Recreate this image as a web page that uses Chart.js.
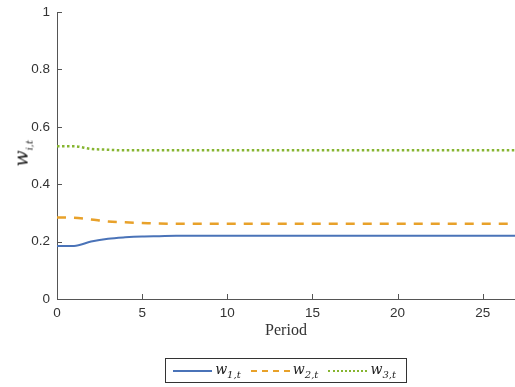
<!DOCTYPE html>
<html>
<head>
<meta charset="utf-8">
<script src="https://cdn.jsdelivr.net/npm/chart.js@4"></script>
<style>
    html, body { margin: 0; padding: 0; background: #fff; }
    #wrap { position: relative; width: 515px; height: 387px; }
    #yTitle {
        position: absolute; left: 0px; top: 141px; width: 44px; text-align: center;
        transform: rotate(-90deg); font-family: "DejaVu Serif", serif; font-size: 19px; color: #222;
    }
    #xTitle {
        position: absolute; left: 57px; width: 458px; top: 321px; text-align: center;
        font-family: "Liberation Serif", serif; font-size: 16px; color: #333;
    }
    #legend {
        position: absolute; left: 165px; top: 358px; width: 242px; height: 25px;
        border: 1px solid #333; box-sizing: border-box; display: flex; align-items: center;
        font-family: "DejaVu Serif", serif; font-size: 14px; color: #222; padding-left: 7px;
    }
    #legend span.sw { display: inline-block; width: 42px; height: 0; margin-right: 3px; }
    #legend span.it { margin-right: 10px; }
    sub { font-size: 10px; font-style: italic; }
    i { font-style: italic; }
</style>
</head>
<body>
<div id="wrap">
    <canvas id="chart" width="515" height="387"></canvas>
    <div id="yTitle"><i>w</i><sub>i,t</sub></div>
    <div id="xTitle">Period</div>
    <div id="legend"></div>
</div>
<script>
const periods = [0, 1, 2, 3, 4, 5, 6, 7, 8, 9, 10, 11, 12, 13, 14, 15, 16, 17, 18, 19, 20, 21, 22, 23, 24, 25, 26, 27]
const w1 = [0.185, 0.185, 0.200, 0.210, 0.215, 0.218, 0.219, 0.220, 0.220, 0.220, 0.220, 0.220, 0.220, 0.220,
    0.220, 0.220, 0.220, 0.220, 0.220, 0.220, 0.220, 0.220, 0.220, 0.220, 0.220, 0.220, 0.220, 0.220]
const w2 = [0.284, 0.283, 0.277, 0.270, 0.267, 0.265, 0.263, 0.262, 0.262, 0.262, 0.262, 0.262, 0.262, 0.262,
    0.262, 0.262, 0.262, 0.262, 0.262, 0.262, 0.262, 0.262, 0.262, 0.262, 0.262, 0.262, 0.262, 0.262]
const w3 = [0.532, 0.532, 0.523, 0.520, 0.518, 0.518, 0.518, 0.518, 0.518, 0.518, 0.518, 0.518, 0.518, 0.518,
    0.518, 0.518, 0.518, 0.518, 0.518, 0.518, 0.518, 0.518, 0.518, 0.518, 0.518, 0.518, 0.518, 0.518]
const xTicks = [0, 5, 10, 15, 20, 25]
const yTicks = [0, 0.2, 0.4, 0.6, 0.8, 1]
const seriesNames = ['1,t', '2,t', '3,t']

const colors = ['#4a73b8', '#e8a12a', '#86b530']
const dashes = [[], [9, 8], [2.5, 2.5]]
const widths = [2, 2.5, 2.5]

function toPoints(values) {
    return periods.map(function (p, i) { return { x: p, y: values[i] } })
}

// MATLAB style inward tick marks
const inwardTicks = {
    id: 'inwardTicks',
    afterDraw(chart) {
        const ctx = chart.ctx
        const xs = chart.scales.x
        const ys = chart.scales.y
        const area = chart.chartArea
        ctx.save()
        ctx.strokeStyle = '#555'
        ctx.lineWidth = 1
        ctx.beginPath()
        xTicks.forEach(function (t) {
            const px = Math.round(xs.getPixelForValue(t)) + 0.5
            ctx.moveTo(px, area.bottom)
            ctx.lineTo(px, area.bottom - 5)
        })
        yTicks.forEach(function (t) {
            const py = Math.round(ys.getPixelForValue(t)) + 0.5
            ctx.moveTo(area.left, py)
            ctx.lineTo(area.left + 5, py)
        })
        ctx.stroke()
        ctx.restore()
    }
}

const datasets = [w1, w2, w3].map(function (vals, i) {
    return {
        label: 'w' + seriesNames[i],
        data: toPoints(vals),
        borderColor: colors[i],
        backgroundColor: colors[i],
        borderWidth: widths[i],
        borderDash: dashes[i],
        pointRadius: 0,
        cubicInterpolationMode: 'monotone',
        fill: false,
    }
})

new Chart(document.getElementById('chart').getContext('2d'), {
    type: 'line',
    data: { datasets: datasets },
    plugins: [inwardTicks],
    options: {
        responsive: false,
        animation: false,
        layout: { padding: { left: 0, top: 12, right: 0, bottom: 0 } },
        plugins: { legend: { display: false }, tooltip: { enabled: false } },
        scales: {
            x: {
                type: 'linear',
                min: 0,
                max: 26.9,
                afterFit: function (scale) { scale.height = 88 },
                afterBuildTicks: function (scale) { scale.ticks = xTicks.map(function (v) { return { value: v } }) },
                grid: { display: true, drawOnChartArea: false, drawTicks: false, color: '#555' },
                border: { display: true, color: '#555', width: 1 },
                ticks: { color: '#333', padding: 6, font: { family: 'Liberation Sans', size: 13.5 }, maxRotation: 0 },
            },
            y: {
                min: 0,
                max: 1,
                afterFit: function (scale) {
                    scale.width = 57
                    scale.paddingTop = 0
                    scale.paddingBottom = 0
                },
                afterBuildTicks: function (scale) { scale.ticks = yTicks.map(function (v) { return { value: v } }) },
                grid: { display: true, drawOnChartArea: false, drawTicks: false, color: '#555' },
                border: { display: true, color: '#555', width: 1 },
                ticks: {
                    color: '#333', padding: 7, font: { family: 'Liberation Sans', size: 13.5 },
                    callback: function (v) { return String(Math.round(v * 10) / 10) },
                },
            },
        },
    },
})

// legend with subscripts
const legend = document.getElementById('legend')
seriesNames.forEach(function (name, i) {
    const sw = document.createElement('span')
    sw.className = 'sw'
    const style = i === 0 ? 'solid' : (i === 1 ? 'dashed' : 'dotted')
    sw.style.borderTop = (i === 0 ? 2 : 2.5) + 'px ' + style + ' ' + colors[i]
    legend.appendChild(sw)
    const it = document.createElement('span')
    it.className = 'it'
    it.innerHTML = '<i>w</i><sub>' + name + '</sub>'
    legend.appendChild(it)
})
</script>
</body>
</html>
